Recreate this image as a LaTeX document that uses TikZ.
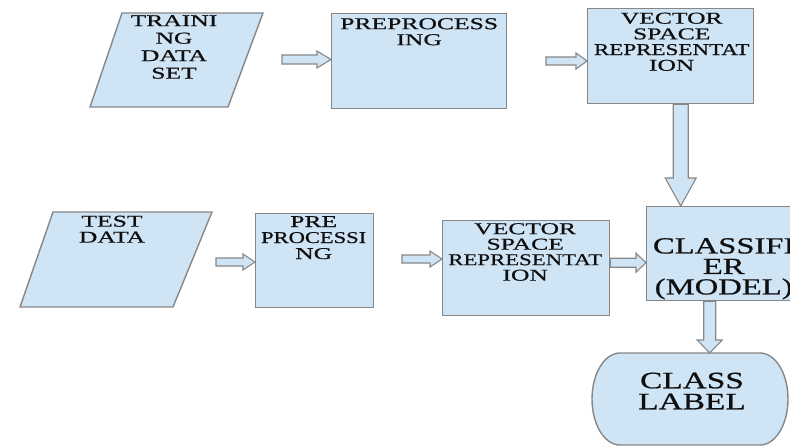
\documentclass[tikz,border=0pt]{standalone}
\usepackage{fontspec}
\setmainfont{Liberation Serif}
\newfontfamily\smfont[FakeStretch=1.55,FakeBold=0.7]{Liberation Serif}
\newfontfamily\lgfont[FakeStretch=1.42,FakeBold=0.7]{Liberation Serif}
\usetikzlibrary{calc}
\definecolor{boxfill}{RGB}{207,228,245}
\definecolor{boxline}{RGB}{135,135,135}
\definecolor{ink}{RGB}{15,15,15}
\tikzset{
  shapeline/.style={draw=boxline, line width=1.4pt, fill=boxfill, line join=miter},
  box/.style={shapeline, rectangle, inner sep=0pt, anchor=north west},
  barrow/.style={draw=boxline, line width=1.1pt, fill=boxfill, line join=miter},
  smtxt/.style={text=ink, align=center, inner sep=0pt, anchor=north, font=\smfont\fontsize{16.5}{16}\selectfont},
  lgtxt/.style={text=ink, align=center, inner sep=0pt, anchor=north, font=\lgfont\fontsize{23}{20.5}\selectfont},
}
\newcommand\harrow[5]{\draw[barrow] ($(#1)+(0,#3)$) -- ($(#2)+(-#5,#3)$) -- ($(#2)+(-#5,#4)$) -- (#2) -- ($(#2)+(-#5,-#4)$) -- ($(#2)+(-#5,-#3)$) -- ($(#1)+(0,-#3)$) -- cycle;}
\newcommand\varrow[5]{\draw[barrow] ($(#1)+(#3,0)$) -- ($(#2)+(#3,-#5)$) -- ($(#2)+(#4,-#5)$) -- (#2) -- ($(#2)+(-#4,-#5)$) -- ($(#2)+(-#3,-#5)$) -- ($(#1)+(-#3,0)$) -- cycle;}
\begin{document}
\begin{tikzpicture}[x=1pt,y=-1pt]
\useasboundingbox (0,0) rectangle (790,447);
\clip (0,0) rectangle (790,447);
% training data set (parallelogram)
\draw[shapeline] (122,13) coordinate (trTL) -- (263,13) coordinate (trTR) -- (228,107) coordinate (trBR) -- (90,107) coordinate (trBL) -- cycle;
\node[smtxt, font=\smfont\fontsize{16.5}{17.5}\selectfont] (trtxt) at (174,15) {TRAINI\\NG\\DATA\\SET};
% preprocessing
\node[box, minimum width=175, minimum height=95] (pre) at (331,13) {};
\node[smtxt] (pretxt) at ($(pre.north)+(0,5)$) {PREPROCESS\\ING};
% vector space representation (top)
\node[box, minimum width=166, minimum height=95] (vec) at (587,8) {};
\node[smtxt, font=\smfont\fontsize{16.5}{15.7}\selectfont] (vectxt) at ($(vec.north)+(1,4.5)$) {VECTOR\\SPACE\\\scalebox{0.9}[1]{REPRESENTAT}\\ION};
% test data (parallelogram)
\draw[shapeline] (53,212) coordinate (teTL) -- (212,212) coordinate (teTR) -- (173,307) coordinate (teBR) -- (20,307) coordinate (teBL) -- cycle;
\node[smtxt] (tetxt) at (112,215.5) {TEST\\DATA};
% preprocessing (test)
\node[box, minimum width=118, minimum height=94] (pre2) at (255,213) {};
\node[smtxt] (pre2txt) at ($(pre2.north)+(-1,3)$) {PRE\\\scalebox{0.88}[1]{PROCESSI}\\NG};
% vector space representation (test)
\node[box, minimum width=167, minimum height=95] (vec2) at (442,220) {};
\node[smtxt, font=\smfont\fontsize{16.5}{15.5}\selectfont] (vec2txt) at ($(vec2.north)+(-1,3)$) {VECTOR\\SPACE\\\scalebox{0.89}[1]{REPRESENTAT}\\ION};
% classifier
\node[box, minimum width=154, minimum height=94] (cls) at (646,206) {};
\node[lgtxt] (clstxt) at ($(cls.north)+(0,32)$) {CLASSIFI\\ER\\(MODEL)};
% class label (terminal)
\draw[shapeline] (620,353) coordinate (lbltop) -- (760,353)
  .. controls (775.5,353) and (788,373.6) .. (788,399)
  .. controls (788,424.4) and (775.5,445) .. (760,445)
  -- (620,445)
  .. controls (604.5,445) and (592,424.4) .. (592,399)
  .. controls (592,373.6) and (604.5,353) .. (620,353) -- cycle;
\node[lgtxt, font=\lgfont\fontsize{23.5}{21}\selectfont] (lbltxt) at (692,372.5) {CLASS\\LABEL};
% arrows
\coordinate (s1) at (282,59.5);
\coordinate (e1) at (pre.west |- s1);
\harrow{s1}{e1}{4.5}{8.5}{14}
\coordinate (s2) at (546,61);
\coordinate (e2) at (vec.west |- s2);
\harrow{s2}{e2}{4}{8}{11}
\coordinate (s3) at (216,262);
\coordinate (e3) at (pre2.west |- s3);
\harrow{s3}{e3}{4}{8}{12}
\coordinate (s4) at (402,259);
\coordinate (e4) at (vec2.west |- s4);
\harrow{s4}{e4}{4}{8}{12}
\coordinate (s5) at ($(vec2.east)+(0,-5.5)$);
\coordinate (e5) at (cls.west |- s5);
\harrow{s5}{e5}{4.5}{9.5}{10}
\coordinate (s6) at ($(vec.south)+(10,0)$);
\coordinate (e6) at (s6 |- cls.north);
\varrow{s6}{e6}{7.5}{15.5}{28}
\coordinate (s7) at ($(cls.south)+(-14,0)$);
\coordinate (e7) at (s7 |- lbltop);
\varrow{s7}{e7}{6}{12.5}{13}
\end{tikzpicture}
\end{document}
